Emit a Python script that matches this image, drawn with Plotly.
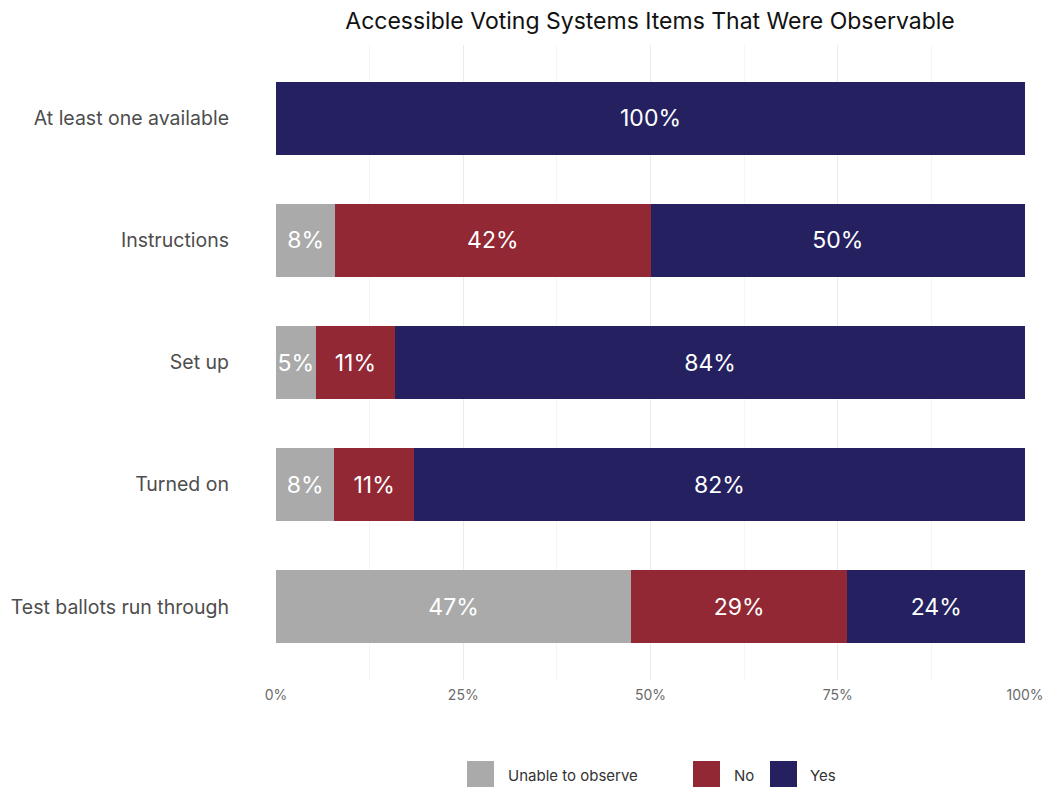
import plotly.graph_objects as go

categories = ["At least one available", "Instructions", "Set up", "Turned on", "Test ballots run through"]
unable = [0.0, 0.079, 0.053, 0.078, 0.474]
no = [0.0, 0.421, 0.106, 0.106, 0.289]
yes = [1.0, 0.500, 0.841, 0.816, 0.237]
series_names = ["Unable to observe", "No", "Yes"]
colors = ["#AAAAAA", "#912834", "#252160"]

FONT = "Inter, Noto Sans, sans-serif"

W, H = 1047, 787
L, R, T, B = 276, 22, 45, 107
PW, PH = W - L - R, H - T - B


def px(xpix):
    return (xpix - L) / PW


def py(ypix):
    return 1 - (ypix - T) / PH


fig = go.Figure()
for name, vals, col in zip(series_names, [unable, no, yes], colors):
    fig.add_trace(go.Bar(
        y=categories, x=vals, name=name, orientation="h",
        marker=dict(color=col, line=dict(width=0)),
        text=[f"{round(v * 100):d}%" if v > 0 else "" for v in vals],
        textposition="inside", insidetextanchor="middle", textangle=0,
        constraintext="none", cliponaxis=False,
        textfont=dict(color="white", size=23, family=FONT),
        hoverinfo="skip", showlegend=False,
    ))

# manual legend (large square keys as in reference)
legend_sq_x = [467, 693, 770]
legend_txt_x = [506, 732, 808]
shapes = []
annotations = []
for name, col, sx, tx in zip(series_names, colors, legend_sq_x, legend_txt_x):
    shapes.append(dict(type="rect", xref="paper", yref="paper",
                       x0=px(sx), x1=px(sx + 27), y0=py(788), y1=py(761),
                       fillcolor=col, line=dict(width=0)))
    annotations.append(dict(text=name, xref="paper", yref="paper",
                            x=px(tx), y=py(775), xanchor="left", yanchor="middle",
                            showarrow=False, font=dict(size=15, color="#333333", family=FONT)))

fig.update_layout(
    barmode="stack",
    bargap=0.4,
    width=W, height=H,
    margin=dict(l=L, r=R, t=T, b=B, autoexpand=False),
    paper_bgcolor="white", plot_bgcolor="white",
    font=dict(family=FONT, color="#333333"),
    title=dict(text="Accessible Voting Systems Items That Were Observable",
               x=650 / W, xanchor="center", y=1 - 21 / H, yanchor="middle",
               font=dict(size=23, color="#111111", family=FONT)),
    xaxis=dict(range=[0, 1], tickvals=[0, 0.25, 0.5, 0.75, 1.0],
               ticktext=["0%", "25%", "50%", "75%", "100%"],
               showgrid=True, gridcolor="#EBEBEB", gridwidth=1.2,
               minor=dict(tickvals=[0.125, 0.375, 0.625, 0.875], showgrid=True,
                          gridcolor="#F2F2F2", gridwidth=0.8),
               zeroline=False, showline=False, automargin=False,
               tickfont=dict(size=14, color="#6b6b6b"), ticklabelstandoff=5),
    yaxis=dict(categoryorder="array", categoryarray=categories,
               autorange=False, range=[4.6, -0.6], automargin=False,
               showgrid=False, zeroline=False, showline=False,
               tickfont=dict(size=19.5, color="#4d4d4d"), ticklabelstandoff=46),
    shapes=shapes,
    annotations=annotations,
    showlegend=False,
)

fig.write_html("out.html",
               config={"displayModeBar": False, "staticPlot": True},
               post_script="document.body.style.margin='0';document.body.style.overflow='hidden';")
